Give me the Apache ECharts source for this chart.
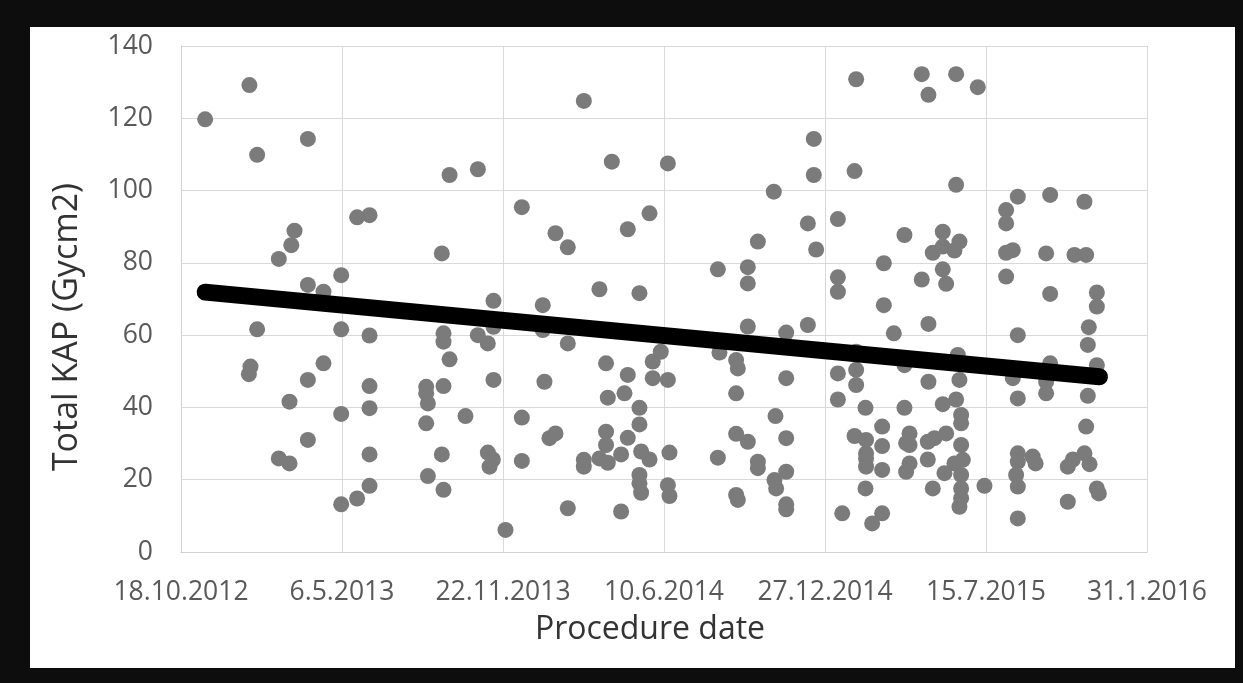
<!DOCTYPE html>
<html>
<head>
<meta charset="utf-8">
<script src="https://cdn.jsdelivr.net/npm/echarts@6/dist/echarts.min.js"></script>
<style>
  html, body { margin: 0; padding: 0; background: #0d0d0d; }
  #frame { position: absolute; left: 30px; top: 27px; width: 1205px; height: 641px; background: #ffffff; }
  #chart { position: absolute; left: 0; top: 0; width: 1243px; height: 683px; }
</style>
</head>
<body>
<div id="frame"></div>
<div id="chart"></div>
<script>
// Procedure day = days after 18.10.2012
const baseDate = [2012, 10, 18];
const xTicks = { min: 0, max: 1200, interval: 200 };
const yTicks = { min: 0, max: 140, interval: 20 };

const procedureDay = [
  30, 85, 94.6, 141, 137, 121.5, 94.6, 86.3, 84.3, 134.8, 121.5, 134.8,
  157.6, 157.6, 177, 199, 218.8, 234.2, 199, 234.2, 177, 157.6, 234.2, 199, 234.2, 157.6, 234.2, 234.2, 218.8, 199,
  333.6, 368.8, 423.4, 324, 388.2, 388.2, 368.7, 381.1, 326.1, 326.1, 333.6, 304.6, 304.6, 306.7, 326.1, 388.2, 304.6, 353.4, 423.4, 324, 381.2, 387.4, 383.3, 423.4, 306.7, 326.1, 403.1,
  500.4, 535.2, 465.2, 480.5, 555, 582, 519.8, 569.5, 449.4, 449.4, 480.5, 528, 586, 596, 451.5, 555, 586, 530.2, 550.9, 569.5, 569.5, 457.7, 465.2, 528, 555, 528, 519.8, 530.2, 546.7, 500.4, 500.4, 571.6, 582, 569.5, 569.5, 571.6, 480.5, 546.7,
  604.8, 736.4, 716.6, 666.9, 704.1, 704.1, 704.1, 668.9, 689.6, 691.7, 604.8, 689.6, 738.5, 606.8, 689.6, 704.1, 666.9, 716.6, 716.6, 737.2, 739.3, 604.8, 606.8, 689.6, 691.7,
  838.7, 786.1, 786.1, 836.7, 778.7, 789, 816, 816, 816, 873.1, 873.1, 885.5, 778.7, 751.8, 838.7, 838.7, 838.7, 816, 816, 751.8, 850.3, 751.8, 836.7, 871, 871, 851, 851, 851, 851, 871, 751.8, 850.3, 751.8, 751.8, 821.4, 858.6, 871,
  920.2, 962.9, 928.5, 989.8, 962.9, 1039.5, 1025, 1025, 898.7, 946.3, 933.9, 946.3, 967, 960.8, 946.3, 950.5, 920.2, 1025, 1033.3, 1025, 928.5, 1039.5, 898.7, 965, 928.5, 967, 1033.3, 1039.5, 898.7, 946.3, 962.9, 969.1, 969.1, 905, 900.8, 905, 927.7, 936, 950.5, 969.1, 905, 900.8, 927.7, 960.8, 971.2, 969.1, 948.4, 933.9, 969.1, 969.1, 967, 998.1, 1039.5, 1039.5, 1037.4, 1039.5, 1039.5,
  1079.7, 1122.3, 1074.7, 1109.9, 1124.4, 1079.7, 1137.7, 1137.7, 1127.7, 1126.5, 1079.7, 1137.7, 1074.7, 1074.7, 1126.5, 1124.4, 1058, 1061.6, 1101.6, 1107.9, 1122.3, 1128.6, 1137.7, 1140.2, 1101.6
];
const totalKAP = [
  119.7, 129.2, 109.9, 88.9, 84.9, 81.1, 61.6, 51.3, 49.2, 41.6, 25.9, 24.5,
  114.3, 73.9, 72.0, 76.6, 92.6, 93.2, 61.6, 59.9, 52.2, 47.6, 45.9, 38.2, 39.8, 31.0, 27.0, 18.3, 14.8, 13.2,
  104.3, 105.9, 95.4, 82.6, 69.5, 62.3, 60.0, 57.7, 60.5, 58.2, 53.3, 45.7, 43.9, 41.1, 45.9, 47.6, 35.6, 37.6, 37.2, 27.0, 27.5, 25.6, 23.6, 25.2, 21.0, 17.2, 6.1,
  124.8, 108.0, 88.2, 84.3, 89.3, 93.7, 72.7, 71.6, 68.3, 61.4, 57.7, 52.2, 52.7, 55.4, 47.1, 49.0, 48.1, 42.7, 43.9, 39.9, 35.3, 31.5, 32.8, 33.3, 31.6, 29.6, 25.9, 24.7, 27.0, 25.5, 23.6, 27.8, 25.6, 21.3, 19.0, 16.4, 12.1, 11.2,
  107.5, 99.7, 85.9, 78.2, 78.8, 74.3, 62.4, 55.2, 53.1, 50.8, 47.6, 43.9, 37.6, 27.5, 32.7, 30.5, 26.1, 25.0, 23.2, 19.9, 17.6, 18.5, 15.5, 15.8, 14.4,
  130.8, 114.3, 104.3, 105.4, 90.9, 83.7, 92.1, 76.0, 72.0, 79.9, 68.3, 60.5, 62.8, 60.7, 55.4, 50.4, 46.2, 49.4, 42.2, 48.1, 39.9, 31.5, 32.1, 34.7, 29.3, 31.0, 27.3, 25.9, 23.6, 22.7, 22.2, 17.6, 13.2, 11.8, 10.7, 7.9, 10.7,
  132.2, 132.2, 126.5, 128.6, 101.6, 98.3, 94.6, 90.9, 87.7, 88.6, 82.8, 84.5, 85.9, 83.4, 78.2, 74.2, 75.4, 82.8, 83.5, 76.2, 63.1, 60.0, 51.7, 54.5, 47.1, 47.6, 48.1, 42.5, 39.9, 40.9, 42.2, 37.9, 35.6, 32.8, 30.1, 29.6, 30.5, 31.5, 32.8, 29.6, 24.5, 22.2, 25.6, 24.5, 25.5, 21.3, 21.8, 17.6, 17.6, 14.9, 12.5, 18.3, 27.3, 25.0, 21.3, 18.1, 9.3,
  98.8, 96.9, 82.6, 82.2, 82.2, 71.4, 71.8, 67.9, 62.2, 57.3, 52.2, 51.7, 47.1, 43.9, 43.2, 34.7, 26.4, 24.5, 23.6, 25.6, 27.3, 24.3, 17.6, 16.2, 13.9
];
// Linear trendline endpoints
const trendDays = [30, 1141];
const trendValues = [71.9, 48.5];

const xTitle = 'Procedure date';
const yTitle = 'Total KAP (Gycm2)';

function dayToLabel(v) {
  const d = new Date(Date.UTC(baseDate[0], baseDate[1] - 1, baseDate[2]) + v * 86400000);
  return d.getUTCDate() + '.' + (d.getUTCMonth() + 1) + '.' + d.getUTCFullYear();
}

const points = procedureDay.map((d, i) => [d, totalKAP[i]]);
const trend = trendDays.map((d, i) => [d, trendValues[i]]);

const chart = echarts.init(document.getElementById('chart'), null, { renderer: 'canvas' });
const FONT = 'Open Sans';
chart.setOption({
  backgroundColor: 'transparent',
  animation: false,
  grid: { left: 181, top: 46, width: 966, height: 506, containLabel: false },
  xAxis: {
    type: 'value',
    min: xTicks.min, max: xTicks.max, interval: xTicks.interval,
    name: xTitle, nameLocation: 'middle', nameGap: 62,
    nameTextStyle: { fontFamily: FONT, fontSize: 32, color: '#333333', padding: [0, 28, 0, 0] },
    axisLine: { show: true, lineStyle: { color: '#d0d0d0', width: 1 } },
    axisTick: { show: false },
    axisLabel: { formatter: dayToLabel, fontFamily: FONT, fontSize: 26.5, color: '#595959', margin: 27 },
    splitLine: { show: true, lineStyle: { color: '#d9d9d9', width: 1 } }
  },
  yAxis: {
    type: 'value',
    min: yTicks.min, max: yTicks.max, interval: yTicks.interval,
    name: yTitle, nameLocation: 'middle', nameGap: 97,
    nameTextStyle: { fontFamily: FONT, fontSize: 34, color: '#333333', padding: [0, 56, 0, 0] },
    axisLine: { show: true, lineStyle: { color: '#d0d0d0', width: 1 } },
    axisTick: { show: false },
    axisLabel: { fontFamily: FONT, fontSize: 26.5, color: '#595959', margin: 28 },
    splitLine: { show: true, lineStyle: { color: '#d9d9d9', width: 1 } }
  },
  series: [
    {
      type: 'scatter',
      data: points,
      symbol: 'circle',
      symbolSize: 16,
      itemStyle: { color: '#7b7b7b', opacity: 1 },
      z: 2
    },
    {
      type: 'line',
      data: trend,
      symbol: 'none',
      lineStyle: { color: '#000000', width: 17, cap: 'round' },
      z: 3
    }
  ]
});
</script>
</body>
</html>
